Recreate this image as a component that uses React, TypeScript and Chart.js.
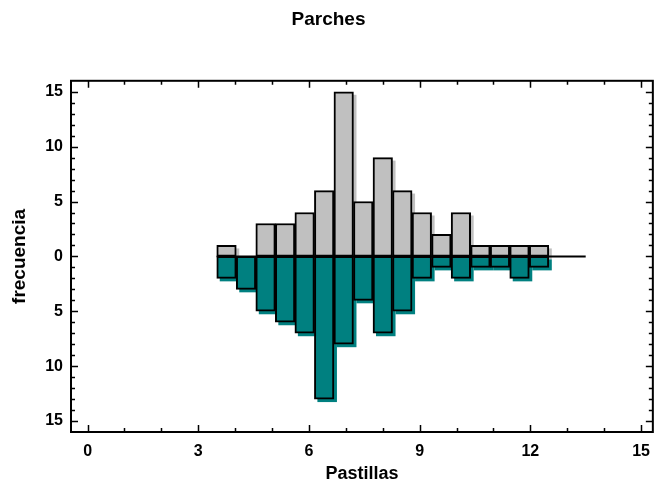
import React, { useEffect, useRef } from "react";
import { Chart, registerables } from "chart.js";

Chart.register(...registerables);

// Histogram classes: 17 equal-width classes between these limits
const classLower = 3.5;
const classUpper = 12.5;
const upperCounts = [1, 0, 3, 3, 4, 6, 15, 5, 9, 6, 4, 2, 4, 1, 1, 1, 1];
const lowerCounts = [2, 3, 5, 6, 7, 13, 8, 4, 7, 5, 2, 1, 2, 1, 1, 2, 1];
const baselineX = [3.5, 13.5];
const xTickValues = [0, 3, 6, 9, 12, 15];
const yTickValues = [-15, -10, -5, 0, 5, 10, 15];

const FONT = "'Liberation Sans', Arial, sans-serif";
const GRAY = "#c0c0c0";
const TEAL = "#008080";

const binWidth = (classUpper - classLower) / upperCounts.length;
const centers = upperCounts.map((_, i) => classLower + (i + 0.5) * binWidth);

const shadowPlugin = {
  id: "barShadow",
  beforeDatasetsDraw(chart: any) {
    const ctx = chart.ctx;
    chart.data.datasets.forEach((ds: any, i: number) => {
      if (ds.type === "line") return;
      const meta = chart.getDatasetMeta(i);
      ctx.save();
      ctx.fillStyle = ds.backgroundColor;
      meta.data.forEach((bar: any) => {
        const p = bar.getProps(["x", "y", "base", "width"], true);
        const left = p.x - p.width / 2;
        const top = Math.min(p.y, p.base);
        const h = Math.abs(p.base - p.y);
        if (h > 0.5) ctx.fillRect(left + 3, top + 3, p.width, h);
      });
      ctx.restore();
    });
  },
};

const framePlugin = {
  id: "frameTicks",
  afterDraw(chart: any) {
    const { ctx, chartArea: a } = chart;
    const xs = chart.scales.x;
    const ys = chart.scales.y;
    ctx.save();
    ctx.strokeStyle = "#000";
    ctx.lineWidth = 2;
    ctx.strokeRect(a.left, a.top, a.right - a.left, a.bottom - a.top);
    ctx.lineWidth = 1.5;
    ctx.beginPath();
    for (let v = 0; v <= 15; v++) {
      const px = Math.round(xs.getPixelForValue(v)) + 0.5;
      const len = v % 3 === 0 ? 7 : 4;
      ctx.moveTo(px, a.bottom);
      ctx.lineTo(px, a.bottom - len);
      ctx.moveTo(px, a.top);
      ctx.lineTo(px, a.top + len);
    }
    for (let v = -15; v <= 15; v++) {
      const py = Math.round(ys.getPixelForValue(v)) + 0.5;
      const len = v % 5 === 0 ? 7 : 4;
      ctx.moveTo(a.left, py);
      ctx.lineTo(a.left + len, py);
      ctx.moveTo(a.right, py);
      ctx.lineTo(a.right - len, py);
    }
    ctx.stroke();
    ctx.restore();
  },
};

export default function App() {
  const ref = useRef<HTMLCanvasElement | null>(null);
  useEffect(() => {
    if (!ref.current) return;
    const chart = new Chart(ref.current, {
      type: "bar",
      data: {
        datasets: [
          {
            type: "line",
            data: baselineX.map((x) => ({ x, y: 0 })),
            borderColor: "#000",
            borderWidth: 2,
            pointRadius: 0,
          } as any,
          {
            type: "bar",
            data: centers.map((x, i) => ({ x, y: upperCounts[i] })),
            backgroundColor: GRAY,
            borderColor: "#000",
            borderWidth: 2,
            borderSkipped: false,
            barPercentage: 1,
            categoryPercentage: 1,
            grouped: false,
          } as any,
          {
            type: "bar",
            data: centers.map((x, i) => ({ x, y: -lowerCounts[i] })),
            backgroundColor: TEAL,
            borderColor: "#000",
            borderWidth: 2,
            borderSkipped: false,
            barPercentage: 1,
            categoryPercentage: 1,
            grouped: false,
          } as any,
        ],
      },
      options: {
        animation: false,
        responsive: false,
        maintainAspectRatio: false,
        layout: { padding: { left: 0, right: 3, top: 0, bottom: 0 } },
        plugins: {
          legend: { display: false },
          tooltip: { enabled: false },
          title: {
            display: true,
            text: "Parches",
            color: "#000",
            font: { family: FONT, size: 19, weight: "bold" },
            padding: { top: 8, bottom: 50 },
          },
        },
        scales: {
          x: {
            type: "linear",
            offset: false,
            min: -0.45,
            max: 15.32,
            grid: { display: false, drawTicks: false },
            border: { display: false },
            afterBuildTicks: (s: any) => {
              s.ticks = xTickValues.map((value) => ({ value }));
            },
            afterFit: (s: any) => {
              s.height = 54;
            },
            ticks: {
              color: "#000",
              font: { family: FONT, size: 16, weight: "bold" },
              padding: 10,
              maxRotation: 0,
              autoSkip: false,
            },
            title: {
              display: true,
              text: "Pastillas",
              color: "#000",
              font: { family: FONT, size: 18, weight: "bold" },
              padding: { top: 0, bottom: 1 },
            },
          },
          y: {
            min: -16,
            max: 16,
            grid: { display: false, drawTicks: false },
            border: { display: false },
            afterBuildTicks: (s: any) => {
              s.ticks = yTickValues.map((value) => ({ value }));
            },
            afterFit: (s: any) => {
              s.width = 71;
            },
            ticks: {
              color: "#000",
              font: { family: FONT, size: 16, weight: "bold" },
              padding: 8,
              autoSkip: false,
              callback: (v: any) => String(Math.abs(Number(v))),
            },
            title: {
              display: true,
              text: "frecuencia",
              color: "#000",
              font: { family: FONT, size: 19, weight: "bold" },
              padding: { top: 8, bottom: 0 },
            },
          },
        },
      },
      plugins: [shadowPlugin, framePlugin],
    } as any);
    return () => chart.destroy();
  }, []);
  return (
    <div style={{ position: "absolute", left: 0, top: 0, width: 660, height: 486 }}>
      <canvas ref={ref} width={660} height={486} style={{ width: 660, height: 486 }} />
    </div>
  );
}
